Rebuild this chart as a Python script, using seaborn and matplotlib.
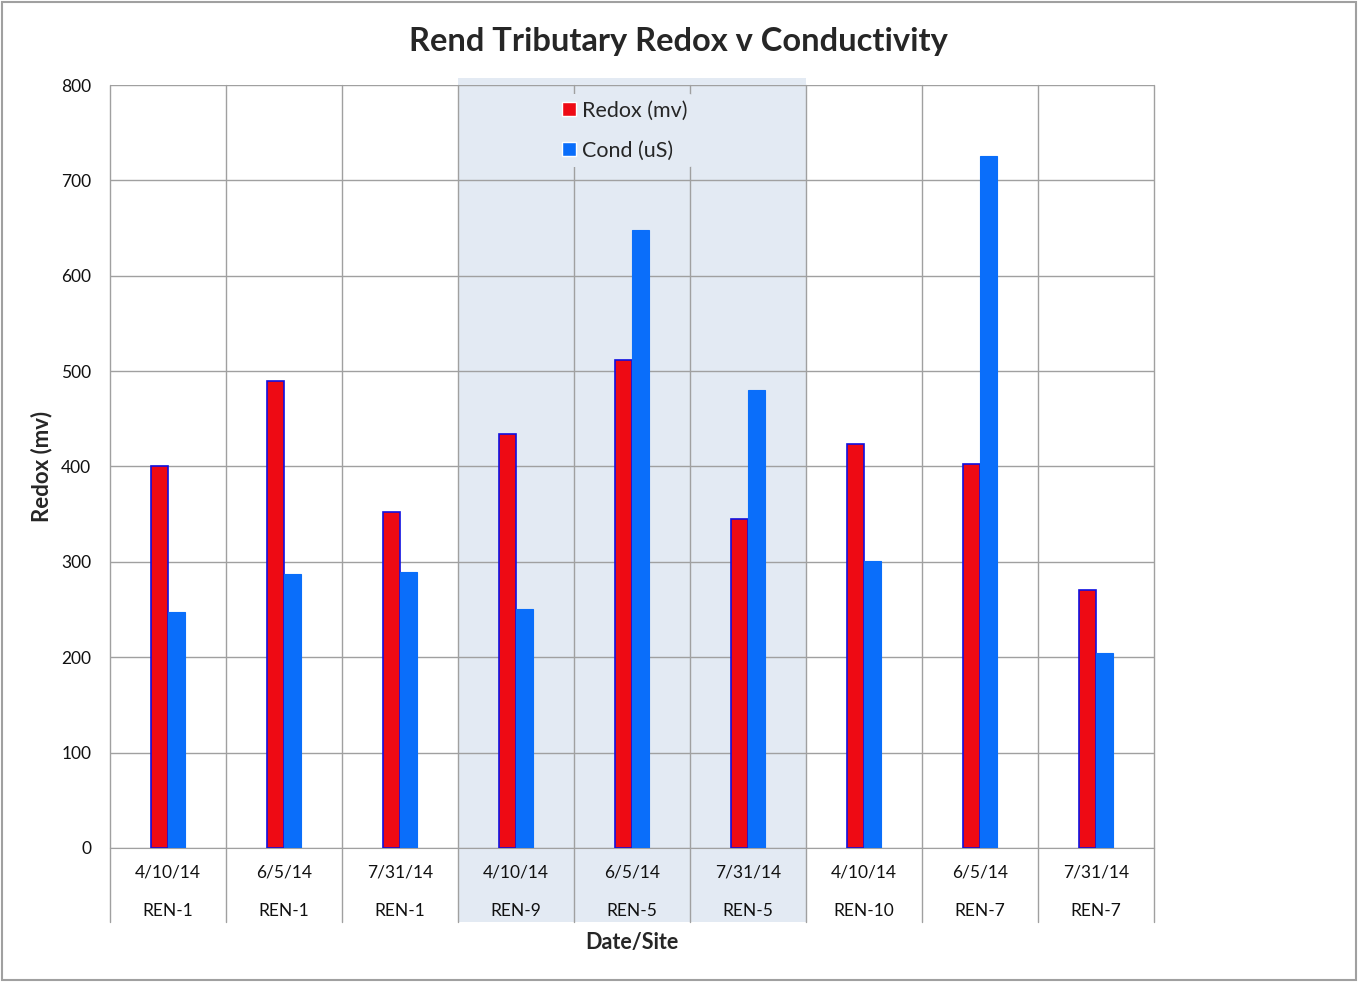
import numpy as np
import pandas as pd
import seaborn as sns
import matplotlib.pyplot as plt
import matplotlib.transforms as mtransforms
from matplotlib.patches import Rectangle

# Dados
datas = ["4/10/14", "6/5/14", "7/31/14", "4/10/14", "6/5/14", "7/31/14", "4/10/14", "6/5/14", "7/31/14"]
locais = ["REN-1", "REN-1", "REN-1", "REN-9", "REN-5", "REN-5", "REN-10", "REN-7", "REN-7"]
redox = [400, 490, 352, 434, 512, 345, 424, 403, 270]
cond = [247, 287, 289, 251, 648, 480, 301, 726, 204]
series = ["Redox (mv)", "Cond (uS)"]

amostras = [f"{d} {s}" for d, s in zip(datas, locais)]
df = pd.DataFrame({
    "amostra": amostras * 2,
    "valor": redox + cond,
    "serie": [series[0]] * len(redox) + [series[1]] * len(cond),
})

sns.set_style("white")
plt.rcParams["font.family"] = ["Lato", "DejaVu Sans"]

cinza = "#A0A0A0"
sombra = "#E3EAF3"

fig = plt.figure(figsize=(13.58, 9.82), dpi=100)
ax = fig.add_axes([0.081, 0.1365, 0.7688, 0.7769])
ax.set_facecolor("none")

sns.barplot(data=df, x="amostra", y="valor", hue="serie", order=amostras,
            hue_order=series, palette=["#EE0A14", "#0A6EFA"], width=0.293,
            saturation=1, errorbar=None, ax=ax, zorder=3)

for patch in ax.containers[0]:
    patch.set_edgecolor("#1010E0")
    patch.set_linewidth(1.2)
for patch in ax.containers[1]:
    patch.set_edgecolor("#0A6EFA")
    patch.set_linewidth(0.8)

ax.set_xlim(-0.5, len(amostras) - 0.5)
ax.set_ylim(0, 800)
ax.set_yticks(range(0, 801, 100))
ax.yaxis.grid(True, color=cinza, lw=1)
ax.set_axisbelow(True)
for s in ax.spines.values():
    s.set_visible(False)
ax.spines["bottom"].set_visible(True)
ax.spines["bottom"].set_color(cinza)
ax.tick_params(axis="y", length=0, pad=13.5, labelsize=12.5, colors="#111111")
ax.set_xticks([])
ax.set_xlabel("")
ax.set_ylabel("")

trans = mtransforms.blended_transform_factory(ax.transData, ax.transAxes)

# Faixa sombreada (REN-9 / REN-5)
ax.add_patch(Rectangle((2.5, -0.097), 3, 1.106, transform=trans,
                       facecolor=sombra, edgecolor="none", zorder=0, clip_on=False))

# Linhas verticais entre categorias
for i in range(len(amostras) + 1):
    ax.plot([i - 0.5, i - 0.5], [-0.097, 1], transform=trans, color=cinza,
            lw=1, zorder=1, clip_on=False)

# Rótulos em dois níveis
for i, (d, s) in enumerate(zip(datas, locais)):
    ax.text(i, -0.0328, d, transform=trans, ha="center", va="center", fontsize=12.5, color="#111111")
    ax.text(i, -0.0826, s, transform=trans, ha="center", va="center", fontsize=12.5, color="#111111")

ax.text(0.5, -0.124, "Date/Site", transform=ax.transAxes, ha="center", va="center",
        fontsize=15.5, fontweight="bold")
fig.text(42 / 1358, 1 - 466 / 982, "Redox (mv)", rotation=90, ha="center", va="center",
         fontsize=16, fontweight="bold")
fig.text(0.4993, 1 - 42 / 982, "Rend Tributary Redox v Conductivity", ha="center", va="center",
         fontsize=23.5, fontweight="bold")

leg = ax.legend(loc="upper center", bbox_to_anchor=(0.493, 1.002), frameon=True,
                facecolor=sombra, edgecolor="none", framealpha=1, fontsize=15.5,
                handlelength=0.65, handleheight=0.65, handletextpad=0.25, labelspacing=0.93,
                borderpad=0.3)
leg.set_zorder(5)

fig.patches.append(Rectangle((0.0015, 0.002), 0.997, 0.996, transform=fig.transFigure,
                             fill=False, edgecolor=cinza, lw=1.5))

fig.savefig("out.png", dpi=100)
